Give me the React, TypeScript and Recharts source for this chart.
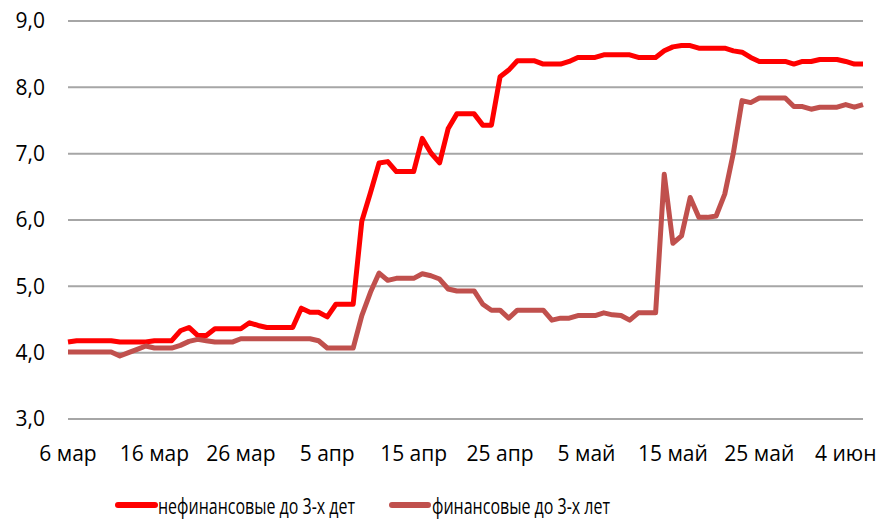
import React from 'react'
import { LineChart, Line, XAxis, YAxis, CartesianGrid, Legend } from 'recharts'

// days since 6 March
const days = Array.from({ length: 93 }, (_, i) => i)

const nonFinancial = [
  4.16, 4.18, 4.18, 4.18, 4.18, 4.18, 4.16, 4.16, 4.16, 4.16,
  4.18, 4.18, 4.18, 4.33, 4.38, 4.26, 4.26, 4.36, 4.36, 4.36,
  4.36, 4.45, 4.41, 4.38, 4.38, 4.38, 4.38, 4.67, 4.61, 4.61,
  4.54, 4.73, 4.73, 4.73, 5.98, 6.41, 6.86, 6.88, 6.73, 6.73,
  6.73, 7.23, 7.01, 6.86, 7.38, 7.6, 7.6, 7.6, 7.43, 7.43,
  8.16, 8.26, 8.4, 8.4, 8.4, 8.35, 8.35, 8.35, 8.39, 8.45,
  8.45, 8.45, 8.49, 8.49, 8.49, 8.49, 8.45, 8.45, 8.45, 8.55,
  8.61, 8.63, 8.63, 8.59, 8.59, 8.59, 8.59, 8.55, 8.53, 8.45,
  8.39, 8.39, 8.39, 8.39, 8.35, 8.39, 8.39, 8.42, 8.42, 8.42,
  8.39, 8.35, 8.35,
]

const financial = [
  4.01, 4.01, 4.01, 4.01, 4.01, 4.01, 3.95, 4.0, 4.05, 4.1,
  4.07, 4.07, 4.07, 4.11, 4.17, 4.2, 4.18, 4.16, 4.16, 4.16,
  4.21, 4.21, 4.21, 4.21, 4.21, 4.21, 4.21, 4.21, 4.21, 4.18,
  4.07, 4.07, 4.07, 4.07, 4.56, 4.91, 5.2, 5.09, 5.12, 5.12,
  5.12, 5.19, 5.16, 5.11, 4.96, 4.93, 4.93, 4.93, 4.73, 4.64,
  4.64, 4.52, 4.64, 4.64, 4.64, 4.64, 4.49, 4.52, 4.52, 4.56,
  4.56, 4.56, 4.6, 4.57, 4.56, 4.49, 4.6, 4.6, 4.6, 6.69,
  5.65, 5.76, 6.34, 6.04, 6.04, 6.06, 6.39, 7.01, 7.8, 7.77,
  7.84, 7.84, 7.84, 7.84, 7.71, 7.71, 7.67, 7.7, 7.7, 7.7,
  7.74, 7.7, 7.74,
]

const tickDays = [0, 10, 20, 30, 40, 50, 60, 70, 80, 90]
const tickLabels = ['6 мар', '16 мар', '26 мар', '5 апр', '15 апр', '25 апр', '5 май', '15 май', '25 май', '4 июн']
const yTicks = [3, 4, 5, 6, 7, 8, 9]

const seriesNames = ['нефинансовые до 3-х дет', 'финансовые до 3-х лет']
const colors = ['#FF0000', '#C0504D']

const data = days.map((d, i) => ({ day: d, nonfin: nonFinancial[i], fin: financial[i] }))

const font = '"Open Sans", sans-serif'

const LegendBox = () => (
  <svg width={882} height={34}>
    <line x1={118} x2={155} y1={19} y2={19} stroke={colors[0]} strokeWidth={6} strokeLinecap="round" />
    <text x={158} y={28} fontFamily={font} fontSize={21} fill="#000" textLength={197} lengthAdjust="spacingAndGlyphs">{seriesNames[0]}</text>
    <line x1={392} x2={428} y1={19} y2={19} stroke={colors[1]} strokeWidth={6} strokeLinecap="round" />
    <text x={432} y={28} fontFamily={font} fontSize={21} fill="#000" textLength={178} lengthAdjust="spacingAndGlyphs">{seriesNames[1]}</text>
  </svg>
)

export default function App() {
  return (
    <div style={{ position: 'absolute', left: 0, top: 0, width: 882, height: 520, background: '#fff' }}>
      <LineChart width={882} height={520} data={data} margin={{ top: 21, right: 19, left: 0, bottom: 17 }}>
        <CartesianGrid vertical={false} stroke="#a6a6a6" strokeWidth={2} />
        <XAxis
          dataKey="day"
          type="number"
          domain={[0, 92]}
          ticks={tickDays}
          tickFormatter={(v: number) => tickLabels[tickDays.indexOf(v)]}
          axisLine={false}
          tickLine={false}
          tickSize={0}
          tickMargin={27}
          height={50}
          interval={0}
          tick={{ fill: '#000', fontSize: 21, fontFamily: font }}
        />
        <YAxis
          type="number"
          domain={[3, 9]}
          ticks={yTicks}
          tickFormatter={(v: number) => v.toFixed(1).replace('.', ',')}
          axisLine={false}
          tickLine={false}
          tickSize={0}
          tickMargin={23}
          width={68}
          interval={0}
          tick={{ fill: '#000', fontSize: 21, fontFamily: font }}
        />
        <Legend
          verticalAlign="bottom"
          content={() => <LegendBox />}
          wrapperStyle={{ left: 0, top: 486, bottom: 'auto', width: 882, height: 34 }}
        />
        <Line dataKey="nonfin" name={seriesNames[0]} stroke={colors[0]} strokeWidth={5} dot={false} isAnimationActive={false} strokeLinejoin="round" />
        <Line dataKey="fin" name={seriesNames[1]} stroke={colors[1]} strokeWidth={5} dot={false} isAnimationActive={false} strokeLinejoin="round" />
      </LineChart>
    </div>
  )
}
